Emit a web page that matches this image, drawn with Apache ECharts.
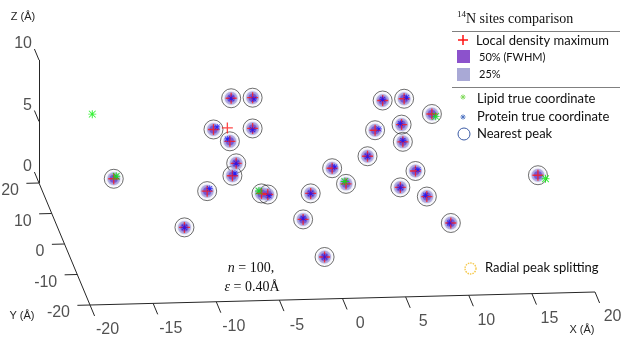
<!DOCTYPE html>
<html>
<head>
    <meta charset="utf-8">
    <script src="https://cdn.jsdelivr.net/npm/echarts@6.0.0/dist/echarts.min.js"></script>
</head>
<body style="margin:0">
    <div id="main" style="width:623px;height:350px"></div>

    <script type="text/javascript">
        // peak positions (x, z in Å); depth (y) cannot be read from the picture, so all sit at y = 0
        var peakX = [-6.8, -5.1, -8.2, -5.1, -6.9, -6.4, -6.7, -16.1, -8.7, -10.5,
                     5.2, 6.9, 4.6, 6.7, 6.8, 4.0, 1.2, 2.3, -4.4, -3.9,
                     -0.5, 6.6, -1.1, 0.6, 7.8, 9.1, 8.7, 10.6, 17.5];
        var peakZ = [11.5, 11.5, 9.0, 9.0, 8.0, 6.2, 5.2, 5.2, 4.0, 1.1,
                     11.0, 11.1, 8.6, 9.0, 7.6, 6.5, 5.6, 4.3, 3.7, 3.6,
                     3.6, 3.9, 1.5, -1.6, 5.2, 9.8, 3.1, 0.9, 4.6];
        // local density maxima with no nearest-peak circle
        var extraMaxX = [-7.1];
        var extraMaxZ = [9.1];

        var lipidX = [-15.9, 2.2, -4.6, 9.4, 18.1, -17.8];
        var lipidZ = [5.4, 4.5, 3.9, 9.6, 4.3, 10.5];

        var proteinX = [-6.8, -5.0, -7.9, -5.1, -7.1, -6.4, -6.5, -8.5, -10.5, 5.2,
                        7.1, 4.9, 6.6, 6.8, 4.0, 1.4, -3.8, -0.5, 6.6, -1.1,
                        0.6, 8.0, 8.6, 10.5];
        var proteinZ = [11.5, 11.4, 9.2, 8.9, 8.2, 6.2, 5.4, 4.2, 1.1, 11.1,
                        11.2, 8.7, 9.1, 7.7, 6.5, 5.7, 3.5, 3.6, 3.9, 1.6,
                        -1.6, 5.3, 3.2, 0.9];

        var xTicks = [-20, -15, -10, -5, 0, 5, 10, 15, 20];
        var yTicks = [-20, -10, 0, 10, 20];
        var zTicks = [0, 5, 10];
        var DEPTH = 0;

        // fixed 3D view: screen position of a point in Å
        function proj(x, y, z) {
            return [90 + 12.625 * (x + 20) - 1.275 * (y + 20),
                    305 - 0.325 * (x + 20) - 3.05 * (y + 20) - 12.3 * z];
        }
        function pts(xs, zs) {
            return xs.map(function (x, i) { return proj(x, DEPTH, zs[i]); });
        }

        var STAR = 'path://M4.4,0H5.6V10H4.4Z M0,4.4H10V5.6H0Z M1.2,0.4L9.6,8.8L8.8,9.6L0.4,1.2Z M8.8,0.4L9.6,1.2L1.2,9.6L0.4,8.8Z';
        var CROSS = 'path://M4.4,0H5.6V10H4.4Z M0,4.4H10V5.6H0Z';
        var AX = '#262626';

        var axisSegs = [
            {coords: [proj(-20, 20, 10), proj(-20, 20, 0)]},
            {coords: [proj(-20, 20, 0), proj(-20, -20, 0)]},
            {coords: [proj(-20, -20, 0), proj(20, -20, 0)]}
        ];
        var tickSegs = [];
        xTicks.forEach(function (v) { tickSegs.push({coords: [proj(v, -20, 0), proj(v, -23.6, 0)]}); });
        yTicks.forEach(function (v) { tickSegs.push({coords: [proj(-20, v, 0), proj(-21, v, 0)]}); });
        zTicks.forEach(function (v) { tickSegs.push({coords: [proj(-20, 20, v), proj(-20, 23.6, v)]}); });

        function labelSeries(data, align, offset) {
            return {
                type: 'scatter', symbolSize: 0, silent: true,
                data: data,
                label: {
                    show: true, position: 'inside', align: align, verticalAlign: 'middle',
                    offset: offset, color: AX, fontSize: 16, fontFamily: 'Liberation Sans',
                    formatter: function (p) { return p.value[2]; }
                }
            };
        }

        // small asterisk for the legend, built from four strokes
        function legendStar(cx, cy, r, color) {
            var d = r * 0.72;
            return [[-r, 0, r, 0], [0, -r, 0, r], [-d, -d, d, d], [-d, d, d, -d]].map(function (s) {
                return {type: 'line', shape: {x1: cx + s[0], y1: cy + s[1], x2: cx + s[2], y2: cy + s[3]},
                        style: {stroke: color, lineWidth: 0.9}};
            });
        }

        var peaks = pts(peakX, peakZ);
        var maxima = peaks.concat(pts(extraMaxX, extraMaxZ));

        var legend = [
            {type: 'text', style: {x: 457, y: 15, text: '14', font: '9px Liberation Serif', fill: '#111', textVerticalAlign: 'middle'}},
            {type: 'text', style: {x: 466, y: 19, text: 'N sites comparison', font: '14px Liberation Serif', fill: '#111', textVerticalAlign: 'middle'}},
            {type: 'line', shape: {x1: 452, y1: 31.5, x2: 620, y2: 31.5}, style: {stroke: '#808080', lineWidth: 1}},
            {type: 'line', shape: {x1: 458, y1: 40, x2: 468, y2: 40}, style: {stroke: '#ff1010', lineWidth: 1.5}},
            {type: 'line', shape: {x1: 463, y1: 35, x2: 463, y2: 45}, style: {stroke: '#ff1010', lineWidth: 1.5}},
            {type: 'text', style: {x: 476, y: 41, text: 'Local density maximum', font: '13px Lato', fill: '#111', textVerticalAlign: 'middle'}},
            {type: 'rect', shape: {x: 457, y: 50, width: 13, height: 13}, style: {fill: '#8c52cc'}},
            {type: 'text', style: {x: 479, y: 57, text: '50% (FWHM)', font: '11px Lato', fill: '#111', textVerticalAlign: 'middle'}},
            {type: 'rect', shape: {x: 457, y: 68, width: 13, height: 13}, style: {fill: '#a9a9d6'}},
            {type: 'text', style: {x: 479, y: 74, text: '25%', font: '11px Lato', fill: '#111', textVerticalAlign: 'middle'}},
            {type: 'line', shape: {x1: 452, y1: 87.5, x2: 620, y2: 87.5}, style: {stroke: '#808080', lineWidth: 1}},
            {type: 'text', style: {x: 477, y: 99, text: 'Lipid true coordinate', font: '13px Lato', fill: '#111', textVerticalAlign: 'middle'}},
            {type: 'text', style: {x: 477, y: 117, text: 'Protein true coordinate', font: '13px Lato', fill: '#111', textVerticalAlign: 'middle'}},
            {type: 'circle', shape: {cx: 464, cy: 134, r: 6}, style: {fill: 'none', stroke: '#3b5ba5', lineWidth: 1}},
            {type: 'text', style: {x: 477, y: 134, text: 'Nearest peak', font: '13px Lato', fill: '#111', textVerticalAlign: 'middle'}},
            {type: 'circle', shape: {cx: 470.5, cy: 268.5, r: 5.5}, style: {fill: 'none', stroke: '#f5c84a', lineWidth: 1.4, lineDash: [1.5, 1]}},
            {type: 'text', style: {x: 485, y: 268, text: 'Radial peak splitting', font: '13px Lato', fill: '#111', textVerticalAlign: 'middle'}}
        ].concat(legendStar(463, 97, 2.6, '#7ed957'), legendStar(463, 117, 2.6, '#4a6fc0'));

        var myChart = echarts.init(document.getElementById('main'));
        var option = {
            animation: false,
            grid: {left: 0, right: 0, top: 0, bottom: 0},
            xAxis: {type: 'value', min: 0, max: 623, show: false},
            yAxis: {type: 'value', min: 0, max: 350, inverse: true, show: false},
            series: [
                {type: 'lines', coordinateSystem: 'cartesian2d', silent: true, data: axisSegs,
                 lineStyle: {color: AX, width: 1, opacity: 1}},
                {type: 'lines', coordinateSystem: 'cartesian2d', silent: true, data: tickSegs,
                 lineStyle: {color: AX, width: 1, opacity: 1}},
                labelSeries(xTicks.map(function (v) { return proj(v, -23.6, 0).concat([v]); }), 'center', [13, 14]),
                labelSeries(yTicks.map(function (v) { return proj(-20, v, 0).concat([v]); }), 'right', [-20, 8]),
                labelSeries(zTicks.map(function (v) { return proj(-20, 20, v).concat([v]); }), 'right', [-7, -16]),
                // nearest peak circles
                {type: 'scatter', data: peaks, symbol: 'circle', symbolSize: 19,
                 itemStyle: {color: 'rgba(0,0,0,0)', borderColor: '#1a1a1a', borderWidth: 0.8}},
                // 25% and 50% density levels
                {type: 'scatter', data: peaks, symbol: 'circle', symbolSize: 13,
                 itemStyle: {color: 'rgba(165,162,218,0.85)', shadowBlur: 3, shadowColor: 'rgba(165,162,218,0.8)'}},
                {type: 'scatter', data: peaks, symbol: 'circle', symbolSize: 8,
                 itemStyle: {color: '#7150d2', shadowBlur: 3, shadowColor: '#7150d2'}},
                // local density maxima
                {type: 'scatter', data: maxima, symbol: CROSS, symbolSize: 11,
                 itemStyle: {color: '#ff1a1a'}},
                {type: 'scatter', data: pts(proteinX, proteinZ), symbol: STAR, symbolSize: 6,
                 itemStyle: {color: '#1010ff'}},
                {type: 'scatter', data: pts(lipidX, lipidZ), symbol: STAR, symbolSize: 8,
                 itemStyle: {color: '#00ee00'}}
            ],
            graphic: [
                {type: 'text', style: {x: 23, y: 17, text: 'Z (Å)', font: '11px Liberation Sans', fill: AX, textAlign: 'center', textVerticalAlign: 'middle'}},
                {type: 'text', style: {x: 22, y: 316, text: 'Y (Å)', font: '11px Liberation Sans', fill: AX, textAlign: 'center', textVerticalAlign: 'middle'}},
                {type: 'text', style: {x: 582, y: 330, text: 'X (Å)', font: '11px Liberation Sans', fill: AX, textAlign: 'center', textVerticalAlign: 'middle'}},
                {type: 'text', style: {x: 251, y: 268, text: '{i|n} = 100,', textAlign: 'center', textVerticalAlign: 'middle',
                    font: '14px Liberation Serif', fill: '#111', rich: {i: {fontStyle: 'italic', fontSize: 14, fontFamily: 'Liberation Serif'}}}},
                {type: 'text', style: {x: 252, y: 287, text: '{i|ε} = 0.40Å', textAlign: 'center', textVerticalAlign: 'middle',
                    font: '14px Liberation Serif', fill: '#111', rich: {i: {fontStyle: 'italic', fontSize: 14, fontFamily: 'Liberation Serif'}}}}
            ].concat(legend)
        };

        myChart.setOption(option);
    </script>
</body>
</html>
